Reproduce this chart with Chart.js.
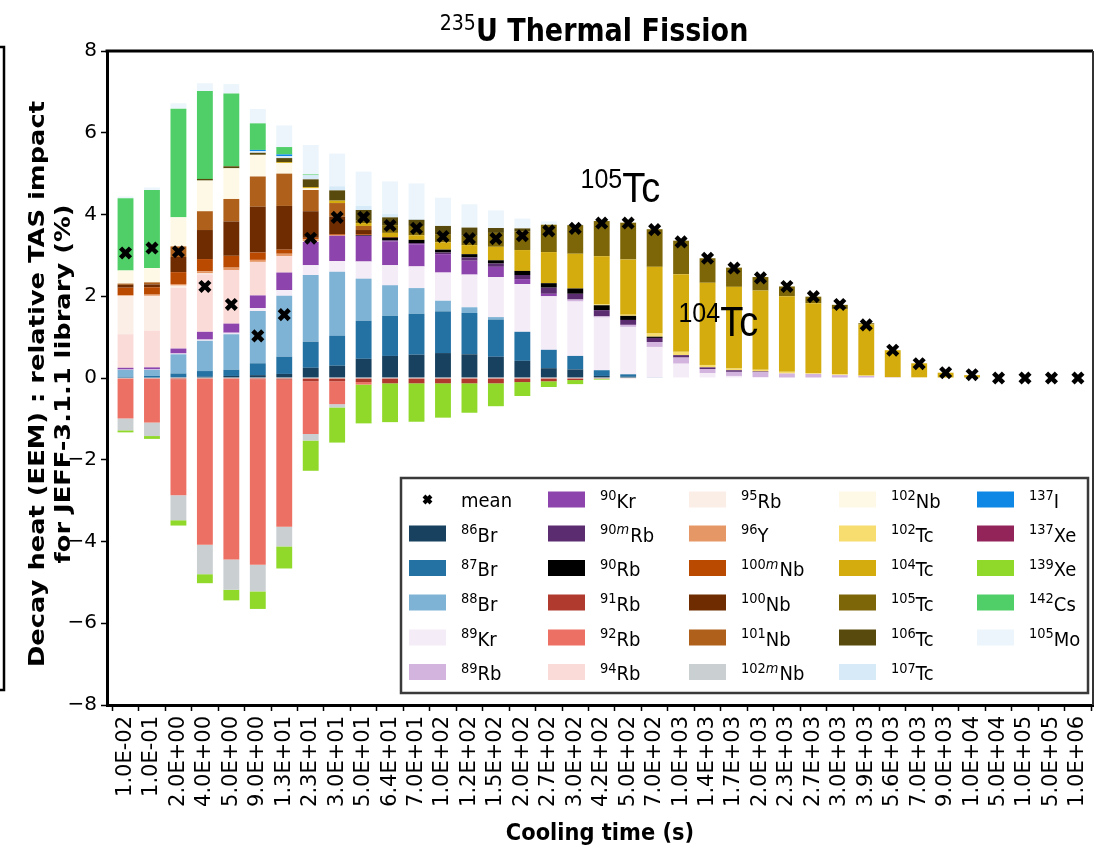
<!DOCTYPE html>
<html>
<head>
<meta charset="utf-8">
<script src="https://cdn.jsdelivr.net/npm/chart.js@4/dist/chart.umd.min.js"></script>
<style>
  html, body { margin: 0; padding: 0; background: #fff; }
</style>
</head>
<body>
<canvas id="chart" width="1095" height="850"></canvas>
<script>
// cooling times (x categories)
const coolingTimes = ["1.0E-02", "1.0E-01", "2.0E+00", "4.0E+00", "5.0E+00", "9.0E+00", "1.3E+01", "2.3E+01", "3.0E+01", "5.0E+01", "6.4E+01", "7.0E+01", "1.0E+02", "1.2E+02", "1.5E+02", "2.0E+02", "2.7E+02", "3.0E+02", "4.2E+02", "5.0E+02", "7.0E+02", "1.0E+03", "1.4E+03", "1.7E+03", "2.0E+03", "2.3E+03", "2.7E+03", "3.0E+03", "3.9E+03", "5.6E+03", "7.0E+03", "9.0E+03", "1.0E+04", "5.0E+04", "1.0E+05", "5.0E+05", "1.0E+06"];

// relative TAS impact (%) per nuclide
const br86 = [0.01, 0.01, 0.02, 0.03, 0.05, 0.07, 0.10, 0.25, 0.30, 0.47, 0.54, 0.57, 0.61, 0.58, 0.52, 0.42, 0.24, 0.21, 0.05, 0.03, 0, 0, 0, 0, 0, 0, 0, 0, 0, 0, 0, 0, 0, 0, 0, 0, 0];
const br87 = [0.02, 0.04, 0.09, 0.14, 0.15, 0.29, 0.42, 0.64, 0.73, 0.93, 0.98, 1.00, 1.02, 1.01, 0.91, 0.71, 0.45, 0.33, 0.14, 0.06, 0.01, 0, 0, 0, 0, 0, 0, 0, 0, 0, 0, 0, 0, 0, 0, 0, 0];
const br88 = [0.17, 0.15, 0.47, 0.74, 0.87, 1.28, 1.49, 1.63, 1.57, 1.03, 0.75, 0.63, 0.26, 0.14, 0.06, 0, 0, 0, 0, 0, 0, 0, 0, 0, 0, 0, 0, 0, 0, 0, 0, 0, 0, 0, 0, 0, 0];
const kr89 = [0, 0, 0.01, 0.02, 0.02, 0.07, 0.14, 0.24, 0.26, 0.42, 0.49, 0.53, 0.69, 0.80, 0.98, 1.17, 1.31, 1.33, 1.29, 1.16, 0.75, 0.35, 0.12, 0.05, 0.02, 0, 0, 0, 0, 0, 0, 0, 0, 0, 0, 0, 0];
const rb89 = [0.01, 0.02, 0.02, 0.02, 0.02, 0, 0, 0, 0, 0, 0, 0, 0, 0, 0, 0, 0, 0.05, 0.03, 0.05, 0.12, 0.15, 0.10, 0.10, 0.12, 0.11, 0.10, 0.07, 0.05, 0.02, 0.01, 0, 0, 0, 0, 0, 0];
const kr90 = [0.04, 0.04, 0.11, 0.18, 0.22, 0.31, 0.43, 0.57, 0.62, 0.63, 0.58, 0.54, 0.45, 0.34, 0.25, 0.12, 0.06, 0, 0, 0, 0, 0, 0, 0, 0, 0, 0, 0, 0, 0, 0, 0, 0, 0, 0, 0, 0];
const rb90m = [0, 0, 0, 0, 0, 0, 0, 0, 0, 0, 0.03, 0.03, 0.04, 0.08, 0.08, 0.10, 0.15, 0.14, 0.15, 0.12, 0.10, 0.06, 0.04, 0.04, 0.02, 0, 0, 0, 0, 0, 0, 0, 0, 0, 0, 0, 0];
const rb90 = [0, 0, 0, 0, 0, 0, 0, 0, 0, 0.02, 0.06, 0.08, 0.07, 0.08, 0.08, 0.10, 0.11, 0.13, 0.12, 0.10, 0.03, 0, 0, 0, 0, 0, 0, 0, 0, 0, 0, 0, 0, 0, 0, 0, 0];
const rb91 = [-0.02, -0.02, -0.03, -0.02, -0.02, -0.03, -0.04, -0.08, -0.08, -0.10, -0.13, -0.13, -0.13, -0.13, -0.13, -0.10, -0.08, -0.05, -0.02, -0.01, 0, 0, 0, 0, 0, 0, 0, 0, 0, 0, 0, 0, 0, 0, 0, 0, 0];
const rb92 = [-0.97, -1.07, -2.84, -4.06, -4.42, -4.54, -3.60, -1.29, -0.56, -0.06, 0, 0, 0, 0, 0, 0, 0, 0, 0, 0, 0, 0, 0, 0, 0, 0, 0, 0, 0, 0, 0, 0, 0, 0, 0, 0, 0];
const rb94 = [0.82, 0.90, 1.48, 1.41, 1.31, 0.82, 0.40, 0.02, 0, 0, 0, 0, 0, 0, 0, 0, 0, 0, 0, 0, 0, 0, 0, 0, 0, 0, 0, 0, 0, 0, 0, 0, 0, 0, 0, 0, 0];
const rb95 = [0.94, 0.85, 0.06, 0.02, 0, 0, 0, 0, 0, 0, 0, 0, 0, 0, 0, 0, 0, 0, 0, 0, 0, 0, 0, 0, 0, 0, 0, 0, 0, 0, 0, 0, 0, 0, 0, 0, 0];
const y96 = [0.02, 0.03, 0.04, 0.05, 0.06, 0.05, 0.06, 0.04, 0.02, 0, 0, 0, 0, 0, 0, 0, 0, 0, 0, 0, 0, 0, 0, 0, 0, 0, 0, 0, 0, 0, 0, 0, 0, 0, 0, 0, 0];
const nb100m = [0.18, 0.18, 0.29, 0.30, 0.29, 0.18, 0.10, 0.04, 0.02, 0.02, 0, 0, 0, 0, 0, 0, 0, 0, 0, 0, 0, 0, 0, 0, 0, 0, 0, 0, 0, 0, 0, 0, 0, 0, 0, 0, 0];
const nb100 = [0.07, 0.07, 0.37, 0.71, 0.84, 1.12, 1.07, 0.65, 0.43, 0.10, 0.02, 0, 0, 0, 0, 0, 0, 0, 0, 0, 0, 0, 0, 0, 0, 0, 0, 0, 0, 0, 0, 0, 0, 0, 0, 0, 0];
const nb101 = [0.03, 0.05, 0.26, 0.46, 0.55, 0.74, 0.79, 0.52, 0.33, 0.10, 0, 0, 0, 0, 0, 0, 0, 0, 0, 0, 0, 0, 0, 0, 0, 0, 0, 0, 0, 0, 0, 0, 0, 0, 0, 0, 0];
const nb102m = [-0.29, -0.33, -0.61, -0.72, -0.74, -0.65, -0.48, -0.16, -0.08, 0, 0, 0, 0, 0, 0, 0, 0, 0, 0, 0, 0, 0, 0, 0, 0, 0, 0, 0, 0, 0, 0, 0, 0, 0, 0, 0, 0];
const nb102 = [0.32, 0.35, 0.71, 0.75, 0.75, 0.53, 0.26, 0.04, 0, 0, 0, 0, 0, 0, 0, 0, 0, 0, 0, 0, 0, 0, 0, 0, 0, 0, 0, 0, 0, 0, 0, 0, 0, 0, 0, 0, 0];
const tc102 = [0, 0, 0, 0, 0, 0, 0, 0, 0, 0, 0, 0, 0, 0, 0, 0, 0, 0, 0.02, 0.03, 0.08, 0.08, 0.06, 0.04, 0.04, 0.04, 0.02, 0.02, 0.01, 0, 0.01, 0, 0, 0, 0, 0, 0];
const tc104 = [0, 0, 0, 0, 0, 0, 0.02, 0.03, 0.06, 0.07, 0.10, 0.11, 0.18, 0.22, 0.33, 0.51, 0.76, 0.85, 1.18, 1.35, 1.63, 1.90, 2.01, 2.00, 1.94, 1.85, 1.71, 1.60, 1.25, 0.66, 0.34, 0.13, 0.07, 0, 0, 0, 0];
const tc105 = [0, 0, 0, 0, 0, 0, 0, 0, 0, 0.07, 0.19, 0.23, 0.20, 0.23, 0.34, 0.46, 0.67, 0.70, 0.86, 0.90, 0.92, 0.82, 0.60, 0.47, 0.33, 0.24, 0.16, 0.10, 0.03, 0, 0, 0, 0, 0, 0, 0, 0];
const tc106 = [0, 0, 0, 0.04, 0.05, 0.05, 0.10, 0.19, 0.25, 0.25, 0.19, 0.15, 0.20, 0.20, 0.12, 0.07, 0, 0, 0, 0, 0, 0, 0, 0, 0, 0, 0, 0, 0, 0, 0, 0, 0, 0, 0, 0, 0];
const tc107 = [0, 0, 0, 0, 0, 0.04, 0.05, 0.10, 0.10, 0.10, 0.08, 0.02, 0, 0, 0, 0, 0, 0, 0, 0, 0, 0, 0, 0, 0, 0, 0, 0, 0, 0, 0, 0, 0, 0, 0, 0, 0];
const i137 = [0, 0, 0, 0, 0, 0.03, 0.04, 0, 0, 0, 0, 0, 0, 0, 0, 0, 0, 0, 0, 0, 0, 0, 0, 0, 0, 0, 0, 0, 0, 0, 0, 0, 0, 0, 0, 0, 0];
const xe137 = [0, 0, 0, 0, 0, 0, 0, 0, 0, 0, 0, 0, 0, 0, 0, 0, 0, 0, 0, 0, 0, 0, 0, 0, 0, 0, 0, 0, 0, 0, 0, 0, 0, 0, 0, 0, 0];
const xe139 = [-0.05, -0.07, -0.13, -0.22, -0.26, -0.43, -0.54, -0.74, -0.86, -0.95, -0.95, -0.94, -0.84, -0.72, -0.56, -0.34, -0.14, -0.10, -0.02, 0, 0, 0, 0, 0, 0, 0, 0, 0, 0, 0, 0, 0, 0, 0, 0, 0, 0];
const cs142 = [1.77, 1.91, 2.66, 2.15, 1.78, 0.65, 0.18, 0.02, 0, 0, 0, 0, 0, 0, 0, 0, 0, 0, 0, 0, 0, 0, 0, 0, 0, 0, 0, 0, 0, 0, 0, 0, 0, 0, 0, 0, 0];
const mo105 = [0.04, 0.06, 0.13, 0.19, 0.23, 0.35, 0.53, 0.72, 0.80, 0.84, 0.80, 0.87, 0.69, 0.57, 0.43, 0.24, 0.08, 0.02, 0, 0, 0, 0, 0, 0, 0, 0, 0, 0, 0, 0, 0, 0, 0, 0, 0, 0, 0];

const meanImpact = [3.06, 3.18, 3.09, 2.24, 1.80, 1.03, 1.55, 3.42, 3.93, 3.93, 3.73, 3.66, 3.46, 3.41, 3.41, 3.48, 3.60, 3.66, 3.79, 3.79, 3.63, 3.33, 2.93, 2.69, 2.45, 2.24, 1.99, 1.80, 1.30, 0.68, 0.35, 0.13, 0.08, 0, 0, 0, 0];

const nuclides = ["86Br", "87Br", "88Br", "89Kr", "89Rb", "90Kr", "90mRb", "90Rb", "91Rb", "92Rb", "94Rb", "95Rb", "96Y", "100mNb", "100Nb", "101Nb", "102mNb", "102Nb", "102Tc", "104Tc", "105Tc", "106Tc", "107Tc", "137I", "137Xe", "139Xe", "142Cs", "105Mo"];
const series = [br86, br87, br88, kr89, rb89, kr90, rb90m, rb90, rb91, rb92, rb94, rb95, y96, nb100m, nb100, nb101, nb102m, nb102, tc102, tc104, tc105, tc106, tc107, i137, xe137, xe139, cs142, mo105];

const colors = ["#17415f", "#2471a3", "#7fb3d5", "#f4ecf7", "#d2b4de", "#8e44ad", "#5b2c6f", "#000000", "#b03a2e", "#ec7063", "#fadbd8", "#fbeee6", "#e59866", "#ba4a00", "#6e2c00", "#af601a", "#cacfd2", "#fef9e7", "#f7dc6f", "#d4ac0d", "#7d6608", "#584a0c", "#d6eaf8", "#0f88e5", "#93245a", "#90d92b", "#50cf68", "#ebf5fb"];

const FONT = "'DejaVu Sans', sans-serif";

// draws e.g. 90mRb with superscript mass number; returns width
function drawNuclide(ctx, x, y, label, o, dry) {
    const m = label.match(/^(\d+)(m?)(.*)$/);
    const sx = o.sx || 1, sy = o.sy || 1;
    let w = 0;
    ctx.save();
    ctx.translate(x, y);
    ctx.scale(sx, sy);
    ctx.font = `${o.supWeight || "normal"} ${o.sup}px ${o.family}`;
    if (!dry) ctx.fillText(m[1], 0, -o.raise);
    w += ctx.measureText(m[1]).width;
    if (m[2]) {
        ctx.font = `italic ${o.sup}px ${o.family}`;
        if (!dry) ctx.fillText(m[2], w, -o.raise);
        w += ctx.measureText(m[2]).width + 1;
    }
    ctx.font = `${o.weight || "normal"} ${o.size}px ${o.family}`;
    if (!dry) ctx.fillText(m[3], w, 0);
    w += ctx.measureText(m[3]).width;
    ctx.restore();
    return w * sx;
}

function drawX(ctx, x, y, r, lw) {
    ctx.save();
    ctx.lineWidth = lw;
    ctx.strokeStyle = "#000";
    ctx.beginPath();
    ctx.moveTo(x - r, y - r); ctx.lineTo(x + r, y + r);
    ctx.moveTo(x - r, y + r); ctx.lineTo(x + r, y - r);
    ctx.stroke();
    ctx.restore();
}

const decorations = {
    id: "decorations",
    afterDraw(chart) {
        const { ctx, chartArea: a, scales } = chart;
        ctx.save();
        ctx.fillStyle = "#000";
        ctx.textAlign = "left";
        ctx.textBaseline = "alphabetic";

        // frame top / right
        ctx.strokeStyle = "#000";
        ctx.lineWidth = 3;
        ctx.beginPath();
        ctx.moveTo(a.left - 1.5, a.top);
        ctx.lineTo(a.right, a.top);
        ctx.stroke();
        ctx.strokeStyle = "#333";
        ctx.lineWidth = 2;
        ctx.beginPath();
        ctx.moveTo(a.right, a.top);
        ctx.lineTo(a.right, a.bottom);
        ctx.stroke();

        // edge of the neighbouring panel
        ctx.strokeStyle = "#000";
        ctx.lineWidth = 2.5;
        ctx.beginPath();
        ctx.moveTo(0, 47);
        ctx.lineTo(4, 47);
        ctx.lineTo(4, 690);
        ctx.lineTo(0, 690);
        ctx.stroke();

        // title
        const tOpt = { family: FONT, size: 27, sup: 19, raise: 10, weight: "bold", sy: 1.15 };
        const tw = drawNuclide(ctx, 0, 0, "235U Thermal Fission", tOpt, true);
        drawNuclide(ctx, 594 - tw / 2, 41, "235U Thermal Fission", tOpt);

        // y axis title
        ctx.save();
        ctx.translate(36, 384);
        ctx.rotate(-Math.PI / 2);
        ctx.scale(1.17, 1);
        ctx.textAlign = "center";
        ctx.font = `bold 22px ${FONT}`;
        ctx.fillText("Decay heat (EEM) : relative TAS impact", 0, 8);
        ctx.fillText("for JEFF-3.1.1 library (%)", 0, 34);
        ctx.restore();

        // x axis title
        ctx.save();
        ctx.translate((a.left + a.right) / 2, 840);
        ctx.scale(1, 1.12);
        ctx.textAlign = "center";
        ctx.font = `bold 21px ${FONT}`;
        ctx.fillText("Cooling time (s)", 0, 0);
        ctx.restore();

        // nuclide annotations
        const aOpt = { family: "'Liberation Sans', Arial, sans-serif", size: 38, sup: 25, raise: 13, sy: 1.1 };
        drawNuclide(ctx, scales.x.getPixelForValue(17.2), scales.y.getPixelForValue(4.31), "105Tc", aOpt);
        drawNuclide(ctx, scales.x.getPixelForValue(20.9), scales.y.getPixelForValue(1.03), "104Tc", aOpt);

        // legend
        const bx = 401, by = 478, bw = 687, bh = 215;
        ctx.fillStyle = "#fff";
        ctx.fillRect(bx, by, bw, bh);
        ctx.strokeStyle = "#3a3a3a";
        ctx.lineWidth = 2.5;
        ctx.strokeRect(bx, by, bw, bh);
        const colX = [8, 147, 288, 438, 576];
        const rowY = [21.5, 55.5, 90, 124.5, 159.5, 194];
        const lOpt = { family: FONT, size: 18, sup: 13, raise: 6.5, sy: 1.12 };
        const entries = [{ label: "mean" }].concat(chart.data.datasets.filter(d => d.type !== "line"));
        entries.forEach((e, i) => {
            const cx = bx + colX[Math.floor(i / 6)];
            const cy = by + rowY[i % 6];
            ctx.fillStyle = "#000";
            if (e.label === "mean") {
                drawX(ctx, cx + 18.5, cy, 3.5, 4);
                ctx.save();
                ctx.translate(cx + 52, cy + 7);
                ctx.scale(1, 1.12);
                ctx.font = `18px ${FONT}`;
                ctx.fillText("mean", 0, 0);
                ctx.restore();
            } else {
                ctx.fillStyle = e.backgroundColor;
                ctx.fillRect(cx, cy - 8, 37, 16);
                ctx.fillStyle = "#000";
                drawNuclide(ctx, cx + 52, cy + 8, e.label, lOpt);
            }
        });
        ctx.restore();
    }
};

// bars sit on integer positions of a linear axis, labelled with the cooling times
const toPoints = (values) => values.map((v, i) => ({ x: i, y: v }));

const datasets = series.map((values, i) => ({
    label: nuclides[i],
    data: toPoints(values),
    backgroundColor: colors[i],
    borderWidth: 0,
    order: 1,
}));

datasets.unshift({
    type: "line",
    label: "mean",
    data: toPoints(meanImpact),
    showLine: false,
    stack: "mean",
    pointStyle: "crossRot",
    pointRadius: 7,
    pointBorderWidth: 4.5,
    pointBorderColor: "#000",
    pointBackgroundColor: "#000",
    order: 0,
});

new Chart(document.getElementById("chart"), {
    type: "bar",
    data: { datasets: datasets },
    options: {
        responsive: false,
        animation: false,
        parsing: true,
        layout: { autoPadding: false, padding: { top: 51, right: 2, left: 0, bottom: 0 } },
        datasets: { bar: { categoryPercentage: 1.0, barPercentage: 0.6 } },
        plugins: {
            legend: { display: false },
            tooltip: { enabled: false },
        },
        scales: {
            x: {
                type: "linear",
                stacked: true,
                offset: false,
                min: -0.7,
                max: coolingTimes.length - 0.43,
                grid: { drawOnChartArea: false, drawTicks: true, tickLength: 6, color: "#000", tickWidth: 1.5 },
                border: { color: "#000", width: 3 },
                ticks: {
                    stepSize: 1,
                    includeBounds: false,
                    autoSkip: false,
                    minRotation: 90,
                    maxRotation: 90,
                    padding: 5,
                    color: "#000",
                    font: { family: FONT, size: 21 },
                    callback: (v) => coolingTimes[v] ?? "",
                },
                afterFit: (s) => {
                    s.height = 145;
                    s.paddingLeft = 0;
                    s.paddingRight = 0;
                },
            },
            y: {
                stacked: true,
                min: -8,
                max: 8,
                grid: { drawOnChartArea: false, drawTicks: true, tickLength: 6, color: "#000", tickWidth: 1.5 },
                border: { color: "#000", width: 3 },
                ticks: {
                    stepSize: 2,
                    padding: 4,
                    color: "#000",
                    font: { family: FONT, size: 20 },
                    callback: (v) => String(v).replace("-", "\u2212"),
                },
                afterFit: (s) => { s.width = 107; },
            },
        },
    },
    plugins: [decorations],
});
</script>
</body>
</html>
